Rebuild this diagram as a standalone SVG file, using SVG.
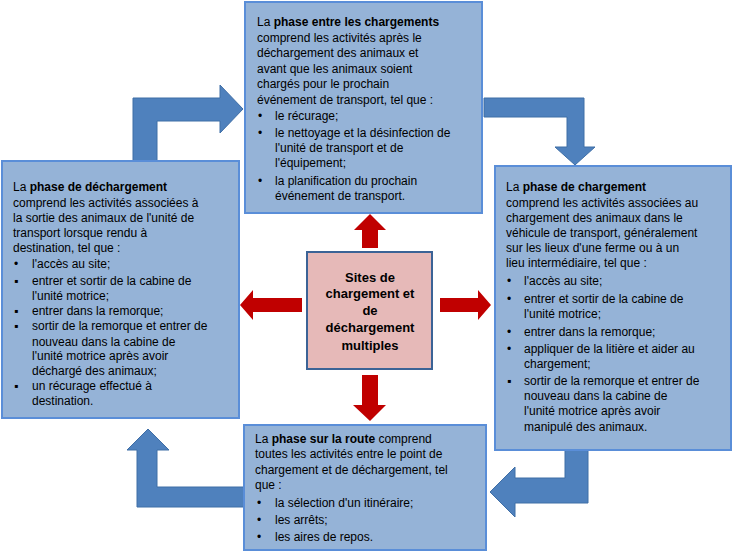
<svg xmlns="http://www.w3.org/2000/svg" width="732" height="552" viewBox="0 0 732 552">
<style>
.box{fill:#95b3d7;stroke:#5a8ed8;stroke-width:2}
.big{fill:#4f81bd;stroke:#3f6ea6;stroke-width:1}
.red{fill:#c00000}
text{font-family:"Liberation Sans",Arial,sans-serif;font-size:12px;fill:#000}
.c{font-size:13px;font-weight:bold;text-anchor:middle}
</style>
<rect width="732" height="552" fill="#fff"/>
<g id="connectors">
<path class="big" d="M133,161 L133,98 L220,98 L220,85 L243,109 L220,133 L220,121 L157,121 L157,161 Z"/>
<path class="big" d="M484,98 L584,98 L584,147 L595,147 L575,165 L555,147 L567,147 L567,117 L484,117 Z"/>
<path class="big" d="M588,450 L588,503 L515,503 L515,517 L490,492 L515,467 L515,478 L565,478 L565,450 Z"/>
<path class="big" d="M244,487 L157,487 L157,450 L169,450 L148,429 L127,450 L137,450 L137,507 L244,507 Z"/>
<path class="red" d="M362,248 L362,230 L354,230 L370,214 L386,230 L378,230 L378,248 Z"/>
<path class="red" d="M302,298 L253,298 L253,290 L240,305 L253,320 L253,312 L302,312 Z"/>
<path class="red" d="M440,298 L478,298 L478,290 L491,305 L478,320 L478,312 L440,312 Z"/>
<path class="red" d="M362,375 L362,405 L353,405 L370,421 L386,405 L378,405 L378,375 Z"/>
</g>
<g id="top">
<rect class="box" x="245" y="2" width="237" height="211"/>
<text x="257" y="26">La <tspan font-weight="bold">phase entre les chargements</tspan></text>
<text x="257" y="41.5">comprend les activités après le</text>
<text x="257" y="57">déchargement des animaux et</text>
<text x="257" y="72.5">avant que les animaux soient</text>
<text x="257" y="88">chargés pour le prochain</text>
<text x="257" y="103.5">événement de transport, tel que :</text>
<text x="258" y="120">•</text><text x="275" y="120">le récurage;</text>
<text x="258" y="137">•</text><text x="275" y="137">le nettoyage et la désinfection de</text>
<text x="275" y="152">l'unité de transport et de</text>
<text x="275" y="167">l'équipement;</text>
<text x="258" y="185">•</text><text x="275" y="185">la planification du prochain</text>
<text x="275" y="200">événement de transport.</text>
</g>
<g id="left">
<rect class="box" x="2" y="161" width="237" height="257"/>
<text x="13" y="191">La <tspan font-weight="bold">phase de déchargement</tspan></text>
<text x="13" y="207">comprend les activités associées à</text>
<text x="13" y="222">la sortie des animaux de l'unité de</text>
<text x="13" y="237">transport lorsque rendu à</text>
<text x="13" y="252">destination, tel que :</text>
<text x="14" y="268">•</text><text x="32" y="268">l'accès au site;</text>
<text x="14" y="285">▪</text><text x="32" y="285">entrer et sortir de la cabine de</text>
<text x="32" y="300">l'unité motrice;</text>
<text x="14" y="315">▪</text><text x="32" y="315">entrer dans la remorque;</text>
<text x="14" y="330">▪</text><text x="32" y="330">sortir de la remorque et entrer de</text>
<text x="32" y="346">nouveau dans la cabine de</text>
<text x="32" y="360">l'unité motrice après avoir</text>
<text x="32" y="375">déchargé des animaux;</text>
<text x="14" y="390">▪</text><text x="32" y="390">un récurage effectué à</text>
<text x="32" y="405">destination.</text>
</g>
<g id="right">
<rect class="box" x="495" y="166" width="236" height="284"/>
<text x="506" y="191">La <tspan font-weight="bold">phase de chargement</tspan></text>
<text x="506" y="207">comprend les activités associées au</text>
<text x="506" y="222">chargement des animaux dans le</text>
<text x="506" y="237">véhicule de transport, généralement</text>
<text x="506" y="252">sur les lieux d'une ferme ou à un</text>
<text x="506" y="267">lieu intermédiaire, tel que :</text>
<text x="507" y="285">•</text><text x="524" y="285">l'accès au site;</text>
<text x="507" y="303">•</text><text x="524" y="303">entrer et sortir de la cabine de</text>
<text x="524" y="318">l'unité motrice;</text>
<text x="507" y="336">•</text><text x="524" y="336">entrer dans la remorque;</text>
<text x="507" y="353">•</text><text x="524" y="353">appliquer de la litière et aider au</text>
<text x="524" y="368">chargement;</text>
<text x="507" y="385">▪</text><text x="524" y="385">sortir de la remorque et entrer de</text>
<text x="524" y="400">nouveau dans la cabine de</text>
<text x="524" y="415">l'unité motrice après avoir</text>
<text x="524" y="431">manipulé des animaux.</text>
</g>
<g id="bottom">
<rect class="box" x="244" y="425" width="242" height="125"/>
<text x="255" y="443">La <tspan font-weight="bold">phase sur la route</tspan> comprend</text>
<text x="255" y="458">toutes les activités entre le point de</text>
<text x="255" y="474">chargement et de déchargement, tel</text>
<text x="255" y="489">que :</text>
<text x="257" y="507">•</text><text x="275" y="507">la sélection d'un itinéraire;</text>
<text x="257" y="524">•</text><text x="275" y="524">les arrêts;</text>
<text x="257" y="541">•</text><text x="275" y="541">les aires de repos.</text>
</g>
<g id="center">
<rect x="307" y="252" width="125" height="117" fill="#e6b9b8" stroke="#3b6396" stroke-width="2"/>
<text class="c" x="370" y="282">Sites de</text>
<text class="c" x="370" y="298">chargement et</text>
<text class="c" x="370" y="315">de</text>
<text class="c" x="370" y="332">déchargement</text>
<text class="c" x="370" y="350">multiples</text>
</g>
</svg>
